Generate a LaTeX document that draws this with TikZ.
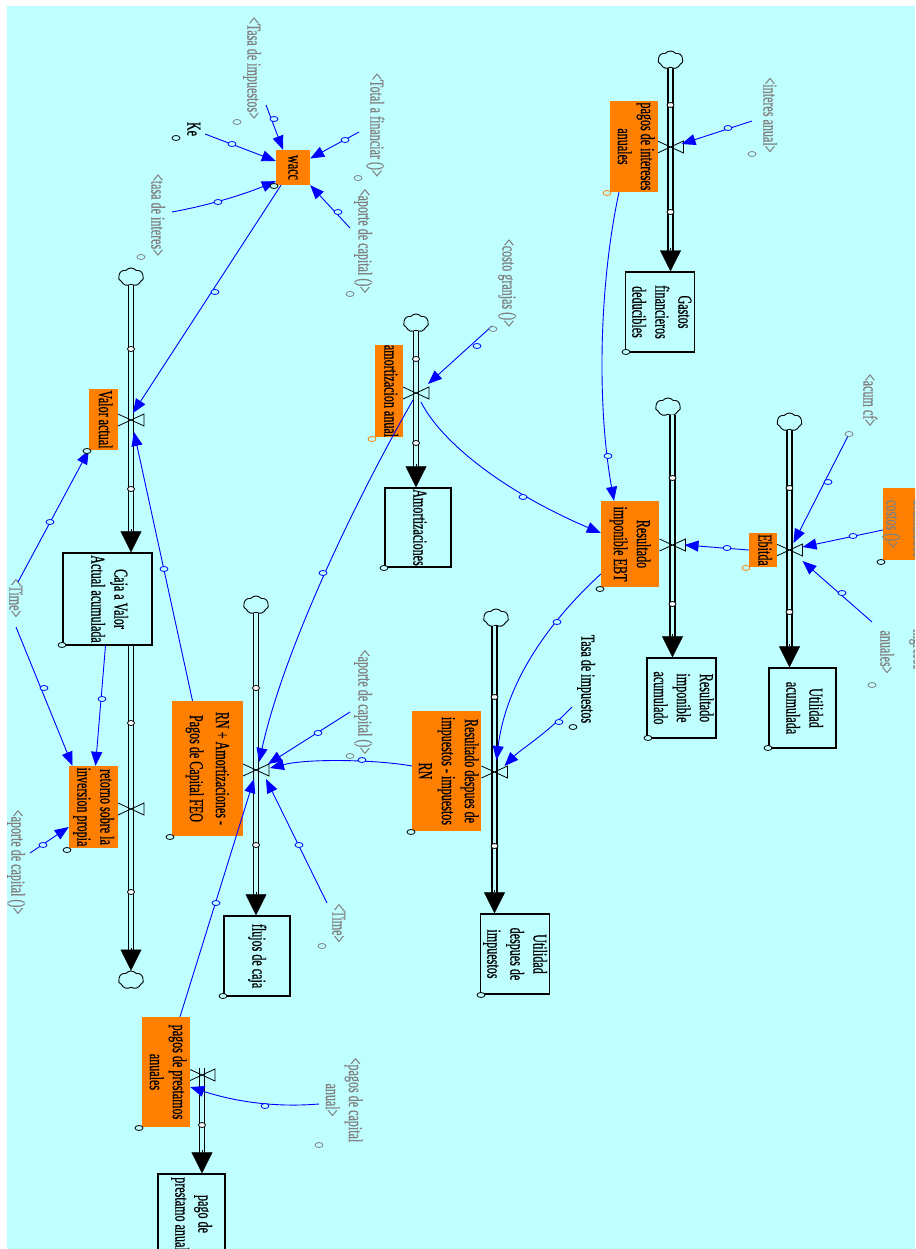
\documentclass[tikz,border=0pt]{standalone}
\usepackage{fontspec}
\usepackage{graphicx}
\newfontfamily\vfont[FakeStretch=0.61,FakeBold=0.6]{Liberation Serif}
\usetikzlibrary{arrows.meta,calc,shapes.geometric,shapes.symbols}
\definecolor{sky}{RGB}{191,255,255}
\definecolor{flowfill}{RGB}{255,128,0}
\definecolor{linkblue}{RGB}{0,0,255}
\definecolor{shadowgray}{RGB}{128,128,128}
\newcommand\labfont{\vfont\fontsize{19.8}{23}\selectfont}
% text set top-to-bottom, lines stacked right to left
\newcommand\vt[1]{\rotatebox{-90}{\begin{tabular}{@{}c@{}}#1\end{tabular}}}
% rate valve (bow tie across the pipe)
\newcommand\valveat[1]{\draw[valveline] ($(#1)+(-13,-6)$) -- ($(#1)+(13,6)$) -- ($(#1)+(13,-6)$) -- ($(#1)+(-13,6)$);}
% double pipe from a source to a target, ending in a solid head
\newcommand\flowpipe[3]{%
  \draw[pipe] (#1 |- #2) -- ($(#1 |- #3)+(0,-19)$);
  \draw[pipehead] ($(#1 |- #3)+(0,-23)$) -- (#1 |- #3);}
\begin{document}
\begin{tikzpicture}[x=1pt,y=-1pt,
  flowbox/.style={fill=flowfill, inner sep=0pt, font=\labfont},
  stockbox/.style={draw=black, line width=1.3pt, fill=sky, inner sep=0pt, font=\labfont},
  shadow/.style={text=shadowgray, inner sep=0pt, font=\labfont},
  plain/.style={text=black, inner sep=0pt, font=\labfont},
  link/.style={draw=linkblue, line width=0.9pt, -{Triangle[length=14pt,width=11pt]}},
  dot/.style={ellipse, draw=black, fill=sky, line width=0.8pt, minimum width=8pt, minimum height=5pt, inner sep=0pt},
  knob/.style={dot, draw=linkblue},
  gdot/.style={dot, draw=shadowgray},
  odot/.style={dot, draw=flowfill},
  handle/.style={dot, fill=white, minimum width=7pt},
  pipe/.style={draw=black, line width=1.5pt, double=sky, double distance=3.6pt},
  pipehead/.style={black, line width=0.4pt, -{Triangle[length=21pt,width=21pt]}},
  valveline/.style={black, line width=0.8pt},
  source/.style={cloud, cloud puffs=7, cloud puff arc=100, cloud ignores aspect, draw=black, fill=sky, line width=0.9pt, minimum width=25pt, minimum height=18pt, inner sep=0pt},
]
\fill[white] (0,0) rectangle (915,1249);
\useasboundingbox (0,0) rectangle (915,1249);
\fill[sky] (7,6) rectangle (915,1249);
\begin{scope}
\clip (7,6) rectangle (915,1249);

% ---------- stocks ----------
\node[stockbox, minimum width=89pt, minimum height=92pt] (caja) at (107.5,599) {\vt{Caja a Valor\\Actual acumulada}};
\node[stockbox, minimum width=66pt, minimum height=80pt] (fdc) at (257,956) {\vt{flujos de caja}};
\node[stockbox, minimum width=66pt, minimum height=79pt] (amz) at (418,527.5) {\vt{Amortizaciones}};
\node[stockbox, minimum width=66pt, minimum height=80pt] (gfd) at (660,312) {\vt{Gastos\\financieros\\deducibles}};
\node[stockbox, minimum width=67pt, minimum height=80pt] (ria) at (681.5,698) {\vt{Resultado\\imponible\\acumulado}};
\node[stockbox, minimum width=67pt, minimum height=80pt] (ua) at (802.5,708) {\vt{Utilidad\\acumulada}};
\node[stockbox, minimum width=66pt, minimum height=80pt] (udi) at (515,954) {\vt{Utilidad\\despues de\\impuestos}};
\node[stockbox, minimum width=67pt, minimum height=80pt] (ppan) at (191.5,1214) {\vt{pago de\\prestamo anual}};

% ---------- sources and sinks ----------
\node[source] (c1) at (131,277) {};
\node[source] (c2) at (131,980) {};
\node[source] (c3) at (256,605) {};
\node[source] (c4) at (416,323) {};
\node[source] (c5) at (670.5,60) {};
\node[source] (c6) at (668,407) {};
\node[source] (c7) at (789.5,422) {};
\node[source] (c8) at (496,618) {};

% ---------- valves ----------
\coordinate (v1) at (131,420);
\coordinate (v2) at (131,809);
\coordinate (v3) at (256,770);
\coordinate (v4) at (416,393);
\coordinate (v5) at (670.5,147);
\coordinate (v6) at (672.5,545);
\coordinate (v7) at (789.5,550);
\coordinate (v8) at (494.5,772);
\coordinate (v9) at (202,1075);
\coordinate (ppasrc) at (202,1068);

% ---------- pipes ----------
\flowpipe{v1}{c1.south}{caja.north}
\flowpipe{v2}{caja.south}{c2.north}
\flowpipe{v3}{c3.south}{fdc.north}
\flowpipe{v4}{c4.south}{amz.north}
\flowpipe{v5}{c5.south}{gfd.north}
\flowpipe{v6}{c6.south}{ria.north}
\flowpipe{v7}{c7.south}{ua.north}
\flowpipe{v8}{c8.south}{udi.north}
\flowpipe{v9}{ppasrc}{ppan.north}
\foreach \v in {v1,v2,v3,v4,v5,v6,v7,v8,v9} {\valveat{\v}}
\foreach \p in {(131,349),(131,489),(131,723),(131,892),(256,688),(256,845),(416,359),(416,443),(670.5,105),(670.5,212),(672.5,478),(672.5,604),(789.5,488),(789.5,612),(494.5,697),(494.5,846),(202,1125)}
  {\node[handle] at \p {};}

% ---------- auxiliaries and rates ----------
\node[flowbox, minimum width=34pt, minimum height=35pt] (wacc) at (293,167.5) {\vt{wacc}};
\node[flowbox, minimum width=29pt, minimum height=61pt] (va) at (103.5,419.5) {\vt{Valor actual}};
\node[flowbox, minimum width=49pt, minimum height=82pt] (ret) at (93.5,807) {\vt{retorno sobre la\\inversion propia}};
\node[flowbox, minimum width=71pt, minimum height=135pt] (feo) at (207.5,768.5) {\vt{RN + Amortizaciones -\\[3pt]Pagos de Capital FEO}};
\node[flowbox, minimum width=28pt, minimum height=92pt] (amo) at (389,391) {\vt{amortizacion anual}};
\node[flowbox, minimum width=48pt, minimum height=91pt] (pint) at (634,146.5) {\vt{pagos de intereses\\anuales}};
\node[flowbox, minimum width=58pt, minimum height=86pt] (ebt) at (630,544) {\vt{Resultado\\imponible EBT}};
\node[flowbox, minimum width=28pt, minimum height=34pt] (ebitda) at (763,550) {\vt{Ebitda}};
\node[flowbox, minimum width=69pt, minimum height=120pt] (rdi) at (446.5,771) {\vt{Resultado despues de\\impuestos - impuestos\\RN}};
\node[flowbox, minimum width=48pt, minimum height=110pt] (ppa) at (166,1072) {\vt{pagos de prestamos\\anuales}};
\node[flowbox, minimum width=44pt, minimum height=72pt] (cos) at (905,524) {};
\node[shadow] at (891,524) {\vt{costos ()>}};
\node[shadow] at (918,525) {\vt{<acumulados}};

% ---------- shadow and plain variables ----------
\node[shadow] (tdi) at (252,68) {\vt{<Tasa de impuestos>}};
\node[plain] (ke) at (192,129) {\vt{Ke}};
\node[shadow] (taf) at (375,125) {\vt{<Total a financiar ()>}};
\node[shadow] (apc1) at (363,241) {\vt{<aporte de capital ()>}};
\node[shadow] (tin) at (156,215) {\vt{<tasa de interes>}};
\node[shadow] (ian) at (768,115) {\vt{<interes anual>}};
\node[shadow] (cgr) at (507,283) {\vt{<costo granjas ()>}};
\node[shadow] (acf) at (868,400) {\vt{<acum cf>}};
\node[shadow] (ing) at (885,652) {\vt{anuales>}};
\node[shadow] at (918,646) {\vt{<ingresos}};
\node[shadow] (apc2) at (363,702) {\vt{<aporte de capital ()>}};
\node[plain] (tdi2) at (586,679) {\vt{Tasa de impuestos}};
\node[shadow] (tim2) at (337,923) {\vt{<Time>}};
\node[shadow] (tim1) at (14,598) {\vt{<Time>}};
\node[shadow] (apc3) at (16,862) {\vt{<aporte de capital ()>}};
\node[shadow] (pca) at (342,1100) {\vt{<pagos de capital\\anual>}};

% ---------- link tails ----------
\coordinate (tdi-o) at (266,105);
\coordinate (ke-o) at (205,134);
\coordinate (taf-o) at (359,132);
\coordinate (apc1-o) at (350,228);
\coordinate (tin-o) at (172,212);
\coordinate (tim1-a) at (18,582);
\coordinate (tim1-b) at (16,627);
\coordinate (apc3-o) at (30,853);
\coordinate (apc2-o) at (350,712);
\coordinate (tim2-o) at (327,903);
\coordinate (cgr-o) at (492,326);
\coordinate (ian-o) at (752,121);
\coordinate (acf-o) at (849,434);
\coordinate (ing-o) at (872,622);
\coordinate (tdi2-o) at (572,707);
\coordinate (pca-o) at (319,1104);

% ---------- links ----------
\draw[link] (tdi-o) -- ([xshift=-10pt]wacc.north);
\draw[link] (ke-o) -- ([yshift=6.5pt]wacc.west);
\draw[link] (taf-o) -- ([yshift=9pt]wacc.east);
\draw[link] (apc1-o) -- (wacc.south east);
\draw[link] (tin-o) .. controls (205,206) and (240,196) .. ([yshift=4pt]wacc.south west);
\draw[link] ([xshift=-12pt]wacc.south) -- ($(v1)+(2,-7)$);
\draw[link] (tim1-a) -- (va.south west);
\draw[link] ([xshift=-15pt]feo.north) -- ($(v1)+(3,12)$);
\draw[link] (tim1-b) -- ([xshift=-21pt]ret.north);
\draw[link] ([xshift=-2pt]caja.south) -- ([xshift=2pt]ret.north);
\draw[link] (apc3-o) -- ([yshift=-20pt]ret.west);
\draw[link] ($(v4)+(-3,7)$) .. controls (360,492) and (285,645) .. ($(v3)+(3,-8)$);
\draw[link] (apc2-o) -- ($(v3)+(12,-6)$);
\draw[link] ([yshift=5pt]rdi.west) .. controls (380,760) and (310,758) .. ($(v3)+(14,-2)$);
\draw[link] (tim2-o) -- ($(v3)+(10,9)$);
\draw[link] ([xshift=14pt]ppa.north) -- ($(v3)+(-2,9)$);
\draw[link] (cgr-o) -- ($(v4)+(12,-9)$);
\draw[link] ($(v4)+(5,9)$) .. controls (440,440) and (500,490) .. ([yshift=11pt]ebt.west);
\draw[link] ([xshift=-15pt]pint.south) .. controls (600,280) and (596,400) .. ([xshift=-16pt]ebt.north);
\draw[link] (ian-o) -- ($(v5)+(11,-3)$);
\draw[link] (ebitda.west) -- ($(v6)+(12,0)$);
\draw[link] (acf-o) -- ($(v7)+(4,-7)$);
\draw[link] ([yshift=-6pt]cos.west) -- ($(v7)+(13,-3)$);
\draw[link] (ing-o) -- ($(v7)+(13,11)$);
\draw[link] ([yshift=-30pt]ebt.west) .. controls (540,630) and (505,690) .. ($(v8)+(2,-12)$);
\draw[link] (tdi2-o) .. controls (545,735) and (520,750) .. ($(v8)+(10,-6)$);
\draw[link] (pca-o) .. controls (270,1108) and (230,1100) .. ([yshift=-15pt]ppa.east);

\foreach \p in {(274,119),(232,144),(345,140),(338,212),(218,202),(215,292),(50,522),(164,569),(44,688),(102,699),(43,845),(323,573),(318,733),(362,760),(299,845),(216,903),(477,346),(523,497),(608,456),(728,128),(727,548),(828,482),(853,536),(842,593),(557,622),(559,722),(265,1106)}
  {\node[knob] at \p {};}

% ---------- corner markers ----------
\foreach \p in {(62,645),(223,996),(384,568),(626,352),(648,738),(768,748),(481,995),(274,186),(87,451),(67,850),(170,837),(600,589),(411,832),(139,1128),(881,562),(176,138),(573,727)}
  {\node[dot] at \p {};}
\foreach \p in {(372,439),(607,193),(746,568)}
  {\node[odot] at \p {};}
\foreach \p in {(237,122),(358,178),(350,294),(141,257),(752,154),(493,329),(849,434),(872,685),(350,756),(322,946),(319,1145)}
  {\node[gdot] at \p {};}
\end{scope}
\end{tikzpicture}
\end{document}
